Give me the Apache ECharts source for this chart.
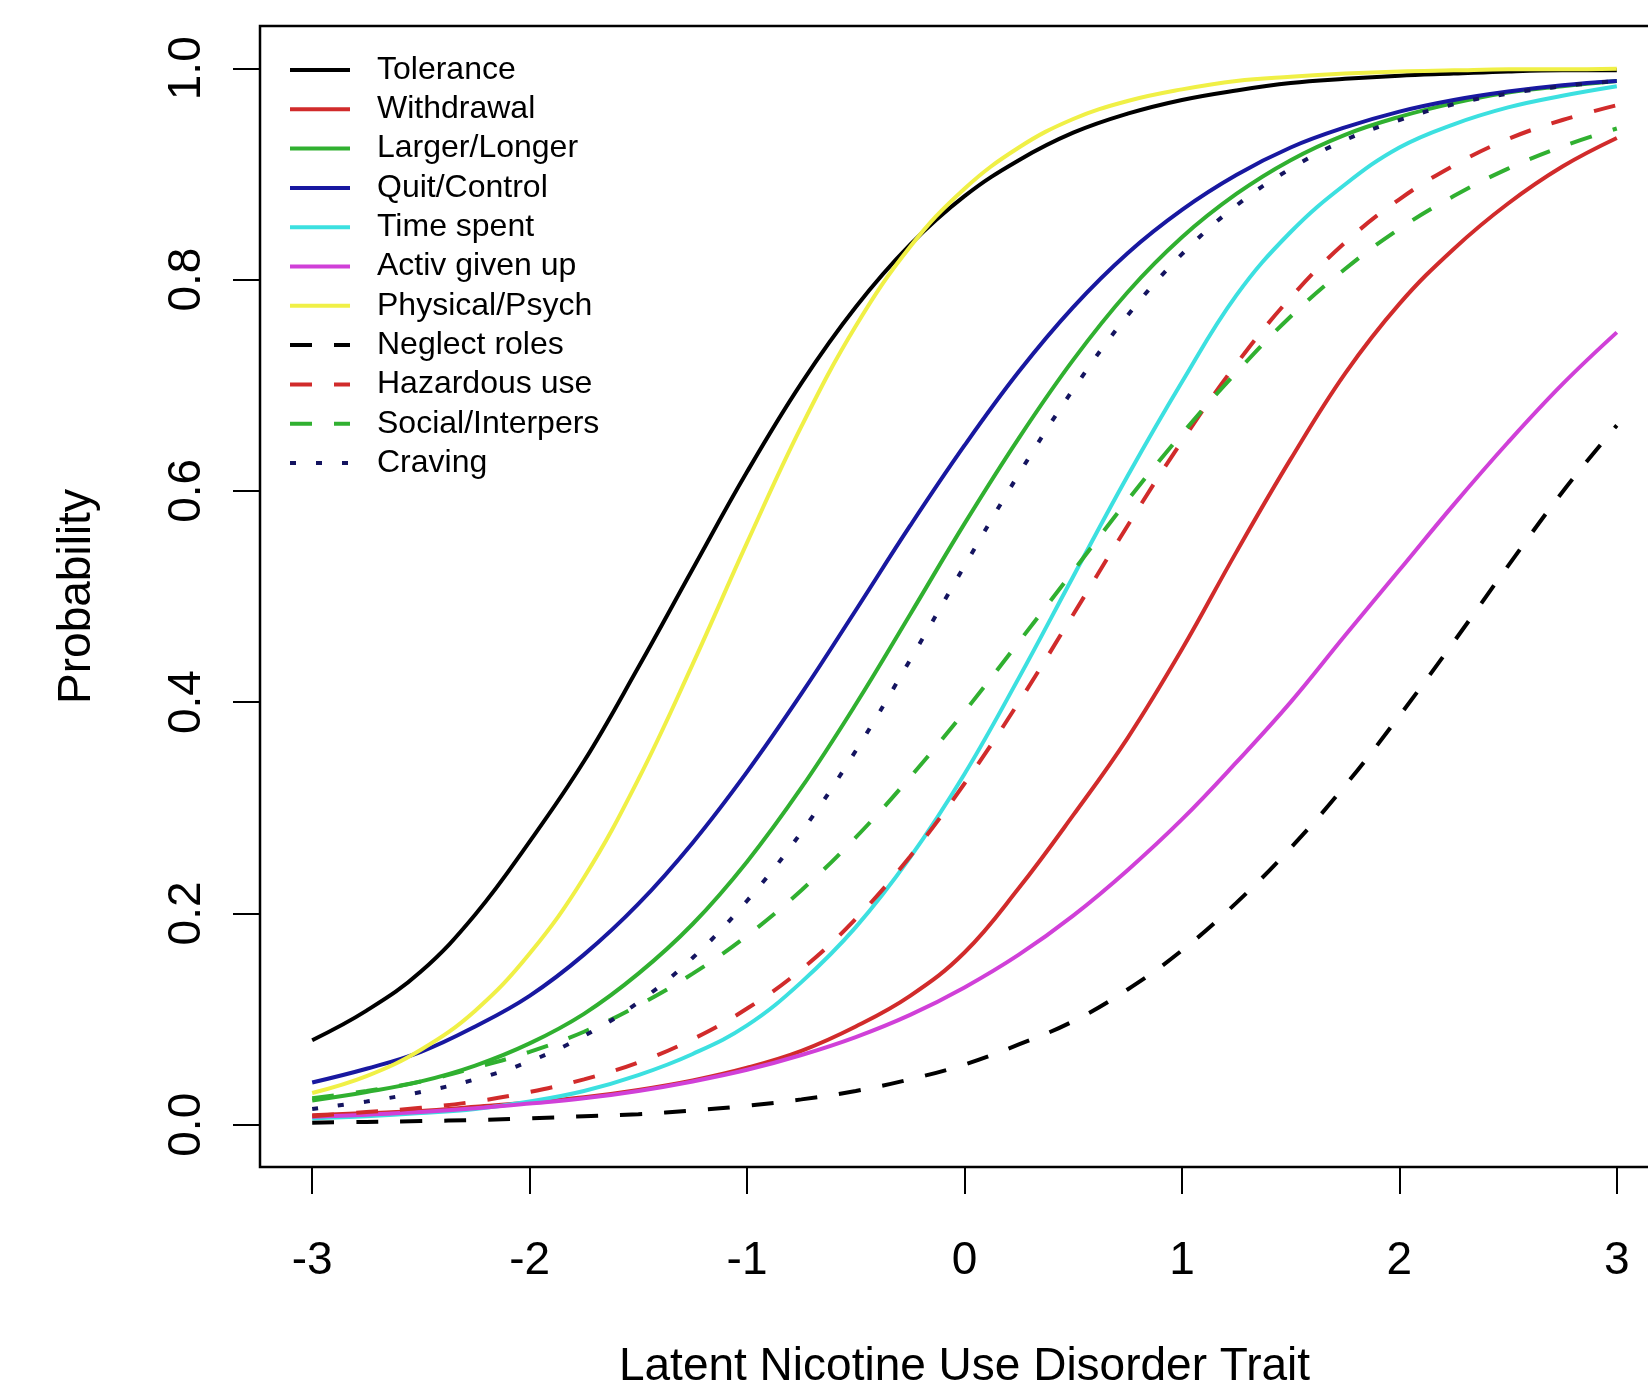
<!DOCTYPE html>
<html>
<head>
<meta charset="utf-8">
<script src="https://cdn.jsdelivr.net/npm/echarts@6/dist/echarts.min.js"></script>
<style>
html,body{margin:0;padding:0;background:#fff;}
#chart{width:1648px;height:1400px;}
</style>
</head>
<body>
<div id="chart"></div>
<script>
// Latent trait values (x)
const theta = [-3, -2.75, -2.5, -2.25, -2, -1.75, -1.5, -1.25, -1, -0.75, -0.5, -0.25, 0,
  0.25, 0.5, 0.75, 1, 1.25, 1.5, 1.75, 2, 2.25, 2.5, 2.75, 3];
const xTicks = [-3, -2, -1, 0, 1, 2, 3];
const yTicks = [0, 0.2, 0.4, 0.6, 0.8, 1.0];

const seriesNames = ["Tolerance", "Withdrawal", "Larger/Longer", "Quit/Control", "Time spent",
  "Activ given up", "Physical/Psych", "Neglect roles", "Hazardous use", "Social/Interpers", "Craving"];

// Probabilities
const tolerance    = [0.080, 0.108, 0.145, 0.199, 0.268, 0.344, 0.433, 0.526, 0.618, 0.702, 0.774, 0.833, 0.879,
  0.913, 0.939, 0.957, 0.970, 0.979, 0.986, 0.990, 0.993, 0.995, 0.997, 0.998, 0.998];
const withdrawal   = [0.009, 0.011, 0.013, 0.017, 0.021, 0.026, 0.033, 0.042, 0.054, 0.070, 0.093, 0.122, 0.163,
  0.224, 0.293, 0.366, 0.450, 0.542, 0.630, 0.711, 0.777, 0.829, 0.872, 0.907, 0.934];
const largerLonger = [0.023, 0.031, 0.041, 0.056, 0.077, 0.105, 0.143, 0.190, 0.249, 0.319, 0.398, 0.483, 0.569,
  0.650, 0.724, 0.788, 0.840, 0.881, 0.913, 0.937, 0.954, 0.967, 0.977, 0.983, 0.988];
const quitControl  = [0.040, 0.053, 0.069, 0.093, 0.122, 0.161, 0.209, 0.267, 0.334, 0.408, 0.487, 0.567, 0.643,
  0.713, 0.774, 0.825, 0.866, 0.899, 0.925, 0.944, 0.959, 0.970, 0.978, 0.984, 0.988];
const timeSpent    = [0.006, 0.008, 0.011, 0.015, 0.022, 0.032, 0.047, 0.067, 0.094, 0.135, 0.187, 0.253, 0.332,
  0.423, 0.519, 0.614, 0.703, 0.785, 0.845, 0.890, 0.925, 0.947, 0.963, 0.974, 0.983];
const activGivenUp = [0.0075, 0.0095, 0.012, 0.0155, 0.020, 0.025, 0.032, 0.041, 0.052, 0.066, 0.083, 0.104, 0.130,
  0.161, 0.198, 0.241, 0.289, 0.343, 0.400, 0.463, 0.525, 0.587, 0.646, 0.701, 0.750];
const physPsych    = [0.030, 0.046, 0.071, 0.108, 0.162, 0.234, 0.327, 0.436, 0.551, 0.661, 0.756, 0.831, 0.886,
  0.925, 0.952, 0.969, 0.980, 0.988, 0.992, 0.995, 0.997, 0.998, 0.999, 0.999, 0.9995];
const neglectRoles = [0.002, 0.0027, 0.0035, 0.0045, 0.006, 0.008, 0.010, 0.0135, 0.018, 0.024, 0.032, 0.043, 0.057,
  0.076, 0.098, 0.128, 0.165, 0.210, 0.262, 0.321, 0.387, 0.457, 0.529, 0.599, 0.662];
const hazardous    = [0.008, 0.012, 0.016, 0.022, 0.031, 0.043, 0.059, 0.081, 0.110, 0.147, 0.195, 0.254, 0.323,
  0.400, 0.483, 0.567, 0.647, 0.720, 0.783, 0.835, 0.876, 0.908, 0.933, 0.951, 0.965];
const social       = [0.025, 0.032, 0.041, 0.054, 0.069, 0.088, 0.113, 0.143, 0.179, 0.222, 0.272, 0.329, 0.391,
  0.457, 0.524, 0.591, 0.654, 0.712, 0.765, 0.810, 0.848, 0.879, 0.905, 0.926, 0.943];
const craving      = [0.015, 0.022, 0.031, 0.043, 0.060, 0.084, 0.116, 0.158, 0.212, 0.277, 0.354, 0.440, 0.529,
  0.616, 0.696, 0.766, 0.824, 0.870, 0.905, 0.932, 0.951, 0.966, 0.976, 0.983, 0.988];

const allValues = [tolerance, withdrawal, largerLonger, quitControl, timeSpent, activGivenUp,
  physPsych, neglectRoles, hazardous, social, craving];
const colors = ["#000000", "#D12B2B", "#30B030", "#1818A0", "#3CE0E0", "#D040D8",
  "#F0F046", "#000000", "#D12B2B", "#30B030", "#141460"];
const types = ["solid","solid","solid","solid","solid","solid","solid",
  [22, 22], [22, 22], [22, 22], [6, 20]];

const FONT = "'Liberation Sans', Arial, sans-serif";

const series = seriesNames.map((name, i) => ({
  name: name,
  type: 'line',
  smooth: 0.4,
  symbol: 'none',
  showSymbol: false,
  data: theta.map((t, j) => [t, allValues[i][j]]),
  lineStyle: { color: colors[i], width: 4, type: types[i] },
  itemStyle: { color: colors[i] },
  emphasis: { disabled: true },
  animation: false
}));

const chart = echarts.init(document.getElementById('chart'), null, { renderer: 'canvas' });
chart.setOption({
  backgroundColor: '#ffffff',
  animation: false,
  grid: {
    left: 260, top: 26, width: 1409, height: 1141,
    show: true, borderColor: '#000', borderWidth: 2.5, backgroundColor: 'transparent',
    containLabel: false, outerBoundsMode: 'none'
  },
  legend: {
    orient: 'vertical',
    left: 288, top: 54,
    padding: 0,
    itemWidth: 60, itemHeight: 32, itemGap: 7.3,
    itemStyle: { opacity: 0, borderWidth: 0 },
    lineStyle: { width: 4 },
    textStyle: { fontFamily: FONT, fontSize: 32, color: '#000', lineHeight: 32, padding: [0, 0, 0, 22] },
    data: seriesNames,
    selectedMode: false
  },
  xAxis: {
    type: 'value', min: -3.24, max: 3.24,
    name: 'Latent Nicotine Use Disorder Trait',
    nameLocation: 'middle', nameGap: 177,
    nameTextStyle: { fontFamily: FONT, fontSize: 46, color: '#000' },
    axisLine: { show: false, onZero: false },
    axisTick: { show: true, customValues: xTicks, length: 27, inside: false, lineStyle: { color: '#000', width: 2 } },
    axisLabel: { customValues: xTicks, margin: 71, fontFamily: FONT, fontSize: 46, color: '#000',
      formatter: v => String(v) },
    splitLine: { show: false }
  },
  yAxis: {
    type: 'value', min: -0.04, max: 1.04,
    name: 'Probability',
    nameLocation: 'middle', nameGap: 160,
    nameTextStyle: { fontFamily: FONT, fontSize: 46, color: '#000' },
    axisLine: { show: false, onZero: false },
    axisTick: { show: true, customValues: yTicks, length: 27, inside: false, lineStyle: { color: '#000', width: 2 } },
    axisLabel: { customValues: yTicks, rotate: 90, margin: 50, fontFamily: FONT, fontSize: 46, color: '#000',
      formatter: v => v.toFixed(1) },
    splitLine: { show: false }
  },
  series: series
});
</script>
</body>
</html>
